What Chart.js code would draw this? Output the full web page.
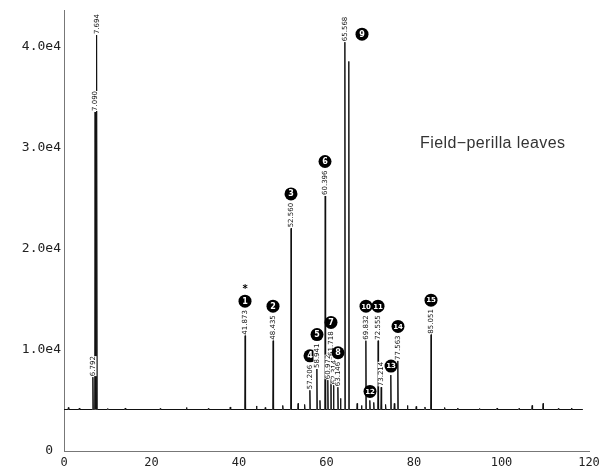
<!DOCTYPE html>
<html>
<head>
<meta charset="utf-8">
<script src="https://cdn.jsdelivr.net/npm/chart.js@4/dist/chart.umd.min.js"></script>
<style>
  html, body { margin: 0; padding: 0; background: #fff; }
  canvas { display: block; }
</style>
</head>
<body>
<canvas id="chrom" width="606" height="472"></canvas>
<script>
// peaks as plotted (min / counts) and their printed retention-time labels
const peakTimes   = [6.6, 7.1, 7.3, 7.5, 41.4, 47.8, 51.9, 56.2, 57.8, 59.7, 60.3, 61.0, 61.6, 62.6, 64.2, 65.1, 69.0, 69.9, 71.8, 72.5, 74.7, 76.3, 83.9];
const peakHeights = [7300, 33500, 6500, 41100, 11400, 10900, 22000, 6000, 8100, 25200, 7000, 9300, 6500, 6300, 40400, 38500, 10900, 5000, 10900, 6300, 7500, 8900, 11500];
const peakLabels  = ["6.792", "7.090", "", "7.694", "41.873", "48.435", "52.560", "57.206", "58.941", "60.396", "60.972", "61.718", "62.314", "63.146", "65.568", "", "69.832", "", "72.555", "73.214", "", "77.563", "85.051"];
const peakNumbers = ["", "", "", "", "1", "2", "3", "4", "5", "6", "", "7", "", "8", "9", "", "10", "12", "11", "", "13", "14", "15"];
const peakNotes   = ["", "", "", "", "*", "", "", "", "", "", "", "", "", "", "", "", "", "", "", "", "", "", ""];

// small baseline bumps
const minorTimes   = [1.0, 3.5, 10.0, 14.0, 22.0, 28.0, 33.0, 38.0, 44.0, 46.0, 50.0, 53.5, 55.0, 58.5, 63.2, 67.0, 68.0, 70.8, 73.5, 75.5, 78.5, 80.5, 82.5, 87.0, 90.0, 95.0, 99.0, 104.0, 107.0, 109.5, 113.0, 116.0];
const minorHeights = [4300, 4250, 4200, 4250, 4200, 4300, 4200, 4350, 4450, 4300, 4500, 4700, 4600, 5000, 5200, 4700, 4500, 4800, 4600, 4700, 4500, 4400, 4350, 4300, 4250, 4200, 4250, 4200, 4500, 4700, 4200, 4250];

const baseline = 4100;
const runStart = 0;
const runEnd = 118.6;

const xTickLabels = ["0", "20", "40", "60", "80", "100", "120"];
const yTickLabels = ["0 ", "1.0e4", "2.0e4", "3.0e4", "4.0e4"];
const sampleName = "Field\u2212perilla leaves";

// baseline with a narrow spike per peak
function buildTrace() {
  const all = [];
  peakTimes.forEach((t, i) => all.push([t, peakHeights[i]]));
  minorTimes.forEach((t, i) => all.push([t, minorHeights[i]]));
  all.sort((a, b) => a[0] - b[0]);
  const pts = [{ x: runStart, y: baseline }];
  const w = 0.1;
  all.forEach(([t, h]) => {
    pts.push({ x: t - w, y: baseline });
    pts.push({ x: t, y: h });
    pts.push({ x: t + w, y: baseline });
  });
  pts.push({ x: runEnd, y: baseline });
  return pts;
}

function drawBadge(ctx, cx, cy, txt) {
  ctx.beginPath();
  ctx.arc(cx, cy, 6.5, 0, Math.PI * 2);
  ctx.fillStyle = "#000";
  ctx.fill();
  ctx.fillStyle = "#fff";
  ctx.font = "bold " + (txt.length > 1 ? 7 : 8) + "px 'DejaVu Sans'";
  ctx.textAlign = "center";
  ctx.textBaseline = "middle";
  ctx.fillText(txt, cx, cy + 0.5);
}

const peakMarks = {
  id: "peakMarks",
  afterDatasetsDraw(chart) {
    const { ctx, chartArea, scales: { x, y } } = chart;
    ctx.save();
    peakTimes.forEach((t, i) => {
      const px = Math.round(x.getPixelForValue(t));
      const py = y.getPixelForValue(peakHeights[i]);
      let top = py;
      if (peakLabels[i]) {
        ctx.save();
        ctx.font = "7px 'DejaVu Sans'";
        ctx.translate(px, py - 1);
        ctx.rotate(-Math.PI / 2);
        ctx.fillStyle = "#fff";
        const tw = ctx.measureText(peakLabels[i]).width;
        ctx.fillRect(0, -3.5, tw, 7);
        ctx.fillStyle = "#111";
        ctx.textAlign = "left";
        ctx.textBaseline = "middle";
        ctx.fillText(peakLabels[i], 0, 0);
        top = py - 1 - tw;
        ctx.restore();
      }
      if (peakNumbers[i]) {
        let cx = px, cy = top - 9;
        if (cy < chartArea.top + 6) { cx = px + 17; cy = py - 8; }
        drawBadge(ctx, cx, cy, peakNumbers[i]);
        if (peakNotes[i]) {
          ctx.fillStyle = "#000";
          ctx.font = "bold 10px 'DejaVu Sans'";
          ctx.textAlign = "center";
          ctx.fillText(peakNotes[i], cx, cy - 12);
        }
      }
    });
    // sample name
    ctx.fillStyle = "#333";
    ctx.font = "16px 'Liberation Sans'";
    ctx.letterSpacing = "0.4px";
    ctx.textAlign = "left";
    ctx.textBaseline = "middle";
    ctx.fillText(sampleName, 420, 144);
    ctx.restore();
  }
};

new Chart(document.getElementById("chrom"), {
  type: "line",
  data: {
    datasets: [{
      data: buildTrace(),
      borderColor: "#111",
      borderWidth: 1,
      pointRadius: 0,
      tension: 0,
      fill: false
    }]
  },
  options: {
    responsive: false,
    animation: false,
    parsing: false,
    layout: { padding: { top: 9, right: 17, left: 0, bottom: 0 } },
    plugins: { legend: { display: false }, tooltip: { enabled: false } },
    scales: {
      x: {
        type: "linear",
        min: 0,
        max: 120,
        afterFit: s => { s.height = 21; },
        grid: { display: false, drawTicks: false },
        border: { display: true, color: "#777", width: 1, dash: [2, 2] },
        ticks: {
          stepSize: 20,
          padding: 5,
          color: "#222",
          font: { family: "'DejaVu Sans Mono'", size: 12 },
          callback: v => xTickLabels[Math.round(v / 20)] ?? ""
        }
      },
      y: {
        min: 0,
        max: 43500,
        afterFit: s => { s.width = 64; },
        afterBuildTicks: s => { s.ticks = yTickLabels.map((_, k) => ({ value: k * 10000 })); },
        grid: { display: false, drawTicks: false },
        border: { display: true, color: "#777", width: 1, dash: [2, 2] },
        ticks: {
          padding: 3,
          autoSkip: false,
          color: "#222",
          font: { family: "'DejaVu Sans Mono'", size: 13 },
          callback: (v, i) => yTickLabels[i] ?? ""
        }
      }
    }
  },
  plugins: [peakMarks]
});
</script>
</body>
</html>
